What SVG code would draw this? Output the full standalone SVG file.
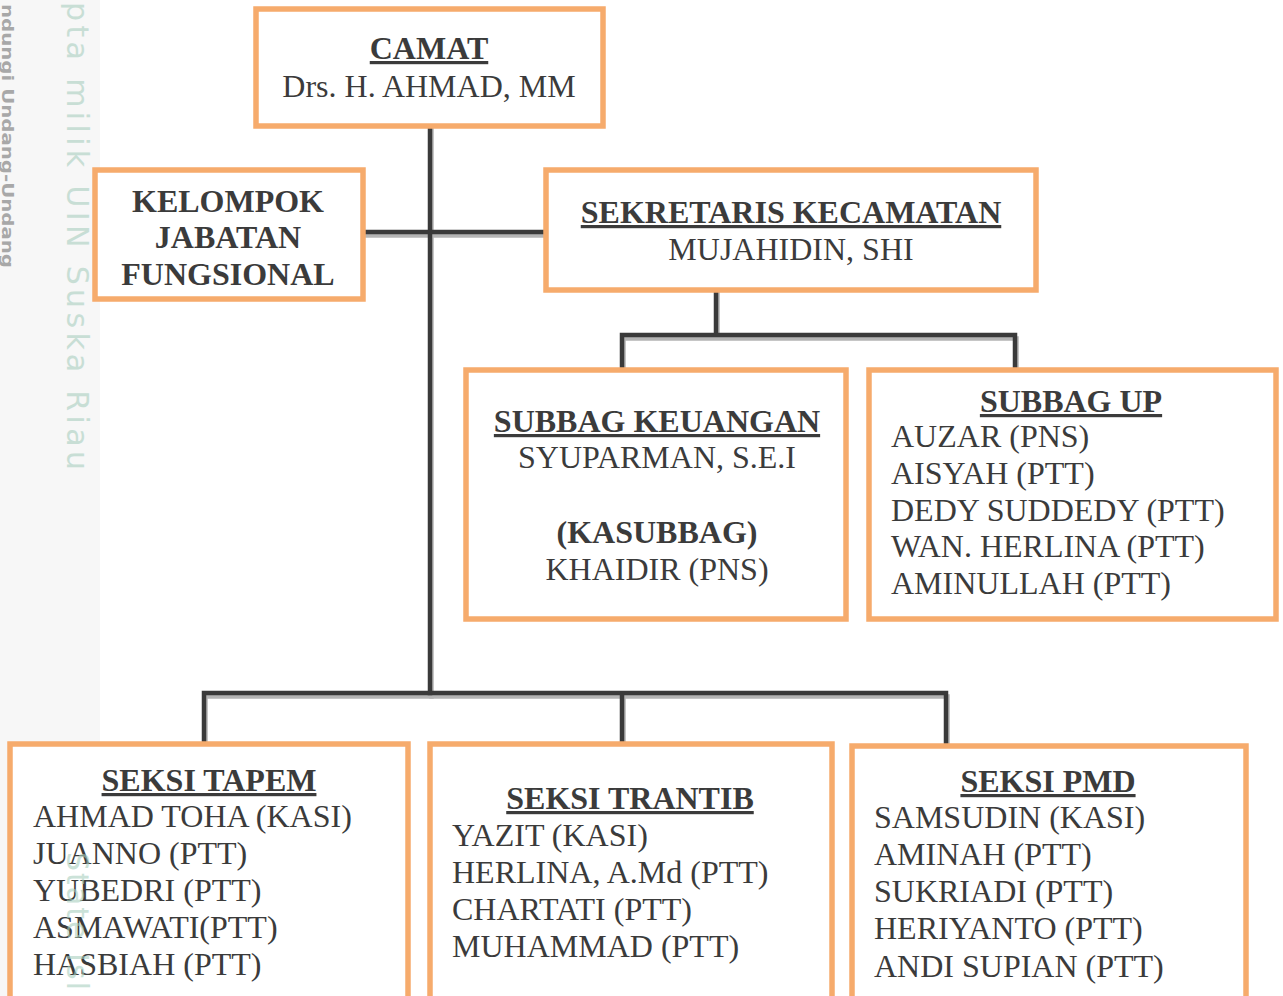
<svg xmlns="http://www.w3.org/2000/svg" width="1283" height="996" viewBox="0 0 1283 996">
<style>
.box{fill:#ffffff;stroke:#f6ab6c;stroke-width:5.5}
.t{font-family:"Liberation Serif","Times New Roman",serif;font-size:32px;fill:#3b3b3b}
.b{font-weight:bold}
.c{text-anchor:middle}
.u{text-decoration:underline}
.ln{fill:none;stroke:#3a3a3a;stroke-width:4.5;stroke-linejoin:miter;stroke-linecap:square}
.sh{fill:none;stroke:#b4b4b4;stroke-width:4.5;stroke-linejoin:miter;stroke-linecap:square}
.wm{font-family:"DejaVu Sans","Liberation Sans",sans-serif;fill:#a9cfbf;opacity:0.6}
</style>
<rect x="0" y="0" width="1283" height="996" fill="#ffffff"/>
<rect x="0" y="0" width="100" height="996" fill="#f7f7f7"/>

<g id="connectors">
  <g transform="translate(1.5,3.5)">
    <path class="sh" d="M430 126 V693"/>
    <path class="sh" d="M365 232 H545"/>
    <path class="sh" d="M716 290 V335 M622 370 V335 H1015 V370"/>
    <path class="sh" d="M204 744 V693 H946 V744 M622 693 V744"/>
  </g>
  <path class="ln" d="M430 126 V693"/>
  <path class="ln" d="M365 232 H545"/>
  <path class="ln" d="M716 290 V335 M622 370 V335 H1015 V370"/>
  <path class="ln" d="M204 744 V693 H946 V744 M622 693 V744"/>
</g>

<g id="camat">
  <rect class="box" x="256" y="9" width="347" height="117"/>
  <text class="t b c u" x="429" y="59">CAMAT</text>
  <text class="t c" x="429" y="97">Drs. H. AHMAD, MM</text>
</g>

<g id="kelompok">
  <rect class="box" x="95" y="170" width="268" height="129"/>
  <text class="t b c" x="228" y="212">KELOMPOK</text>
  <text class="t b c" x="228" y="248">JABATAN</text>
  <text class="t b c" x="228" y="285">FUNGSIONAL</text>
</g>

<g id="sekretaris">
  <rect class="box" x="546" y="170" width="490" height="120"/>
  <text class="t b c u" x="791" y="223">SEKRETARIS KECAMATAN</text>
  <text class="t c" x="791" y="260">MUJAHIDIN, SHI</text>
</g>

<g id="subbag-keuangan">
  <rect class="box" x="466" y="370" width="380" height="249"/>
  <text class="t b c u" x="657" y="432">SUBBAG KEUANGAN</text>
  <text class="t c" x="657" y="468">SYUPARMAN, S.E.I</text>
  <text class="t b c" x="657" y="543">(KASUBBAG)</text>
  <text class="t c" x="657" y="580">KHAIDIR (PNS)</text>
</g>

<g id="subbag-up">
  <rect class="box" x="869" y="370" width="407" height="249"/>
  <text class="t b c u" x="1071" y="412">SUBBAG UP</text>
  <text class="t" x="891" y="447">AUZAR (PNS)</text>
  <text class="t" x="891" y="484">AISYAH (PTT)</text>
  <text class="t" x="891" y="521">DEDY SUDDEDY (PTT)</text>
  <text class="t" x="891" y="557">WAN. HERLINA (PTT)</text>
  <text class="t" x="891" y="594">AMINULLAH (PTT)</text>
</g>

<g id="seksi-tapem">
  <rect class="box" x="10" y="744" width="398" height="270"/>
  <text class="t b c u" x="209" y="791">SEKSI TAPEM</text>
  <text class="t" x="33" y="827">AHMAD TOHA (KASI)</text>
  <text class="t" x="33" y="864">JUANNO (PTT)</text>
  <text class="t" x="33" y="901">YUBEDRI (PTT)</text>
  <text class="t" x="33" y="938">ASMAWATI(PTT)</text>
  <text class="t" x="33" y="975">HASBIAH (PTT)</text>
</g>

<g id="seksi-trantib">
  <rect class="box" x="430" y="744" width="402" height="270"/>
  <text class="t b c u" x="630" y="809">SEKSI TRANTIB</text>
  <text class="t" x="452" y="846">YAZIT (KASI)</text>
  <text class="t" x="452" y="883">HERLINA, A.Md (PTT)</text>
  <text class="t" x="452" y="920">CHARTATI (PTT)</text>
  <text class="t" x="452" y="957">MUHAMMAD (PTT)</text>
</g>

<g id="seksi-pmd">
  <rect class="box" x="852" y="746" width="394" height="270"/>
  <text class="t b c u" x="1048" y="792">SEKSI PMD</text>
  <text class="t" x="874" y="828">SAMSUDIN (KASI)</text>
  <text class="t" x="874" y="865">AMINAH (PTT)</text>
  <text class="t" x="874" y="902">SUKRIADI (PTT)</text>
  <text class="t" x="874" y="939">HERIYANTO (PTT)</text>
  <text class="t" x="874" y="977">ANDI SUPIAN (PTT)</text>
</g>

<g id="watermark">
  <text class="wm" font-size="30" transform="translate(67,2) rotate(90)" textLength="468" lengthAdjust="spacing">pta milik UIN Suska Riau</text>
  <text class="wm" font-size="30" transform="translate(67,852) rotate(90)" textLength="138" lengthAdjust="spacing">State Isl</text>
  <text font-family="'DejaVu Sans','Liberation Sans',sans-serif" font-weight="bold" font-size="16" fill="#a8a8a8" transform="translate(2,4) rotate(90)" textLength="264" lengthAdjust="spacingAndGlyphs">ndungi Undang-Undang</text>
</g>
</svg>
